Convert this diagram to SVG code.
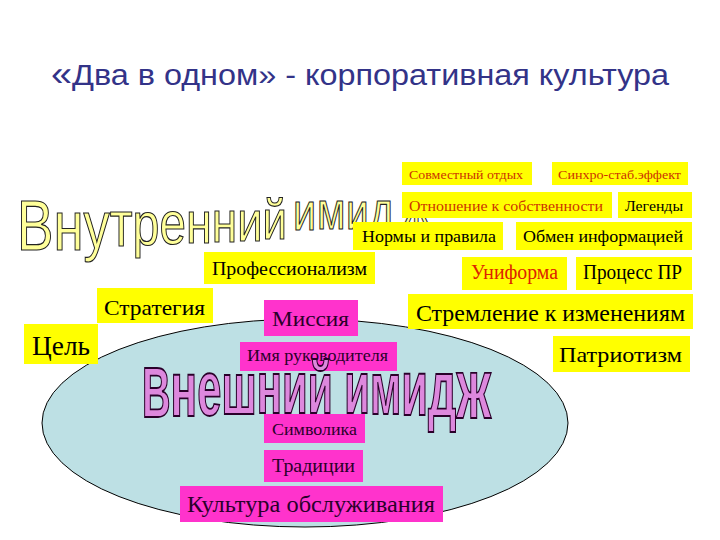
<svg xmlns="http://www.w3.org/2000/svg" width="720" height="540" viewBox="0 0 720 540">
<style>
.y{fill:#FFFF00}
.m{fill:#FF33CC}
.t{font-family:"Liberation Serif","Times New Roman",serif;fill:#000}
.r{fill:#CC3300}
.dk{fill:#2A002A}
.title{font-family:"Liberation Sans",Arial,sans-serif;fill:#333388}
.wa1{font-family:"Liberation Sans",Arial,sans-serif;fill:#FFFF99;stroke:#222;stroke-width:1.2}
.wa2{font-family:"Liberation Sans",Arial,sans-serif;font-weight:bold;fill:#DD88DD;stroke:#2A002A;stroke-width:1.8}
</style>
<rect width="720" height="540" fill="#fff"/>
<g id="title">
<text class="title" x="51" y="85" font-size="30" textLength="618" lengthAdjust="spacingAndGlyphs"><tspan font-size="35">«</tspan>Два в одном» - корпоративная культура</text>
</g>
<g id="ellipse">
<ellipse cx="305" cy="423" rx="263" ry="104" fill="#BDE0E4" stroke="#000" stroke-width="1"/>
</g>
<g id="inner-image">
<text class="wa1" transform="scale(0.78,1)" x="21.8" y="250"><tspan font-size="70" y="250">В</tspan><tspan font-size="70" y="250">н</tspan><tspan font-size="67" y="248">у</tspan><tspan font-size="64" y="246">т</tspan><tspan font-size="62" y="245">р</tspan><tspan font-size="61" y="244">е</tspan><tspan font-size="60" y="243">н</tspan><tspan font-size="59" y="242">н</tspan><tspan font-size="58" y="241">и</tspan><tspan font-size="56" y="239">й</tspan><tspan font-size="58" y="235"> </tspan><tspan font-size="53" x="375.6" y="230">и</tspan><tspan font-size="53" x="406.4" y="229">м</tspan><tspan font-size="52" x="443.6" y="229">и</tspan><tspan font-size="52" x="474.4" y="228">д</tspan><tspan font-size="51" x="516.7" y="227">ж</tspan></text>
</g>
<g id="connectors"></g>
<g id="n-sovmestny"><rect class="y" x="402" y="162" width="130" height="23"/><text class="t r" x="409" y="179" font-size="13" textLength="114" lengthAdjust="spacingAndGlyphs">Совместный отдых</text></g>
<g id="n-sinhro"><rect class="y" x="552" y="162" width="136" height="23"/><text class="t r" x="558" y="179" font-size="13" textLength="123" lengthAdjust="spacingAndGlyphs">Синхро-стаб.эффект</text></g>
<g id="n-otnoshenie"><rect class="y" x="402" y="192" width="210" height="26"/><text class="t r" x="409" y="211" font-size="15" textLength="194" lengthAdjust="spacingAndGlyphs">Отношение к собственности</text></g>
<g id="n-legendy"><rect class="y" x="618" y="192" width="74" height="26"/><text class="t" x="625" y="211" font-size="15" textLength="58" lengthAdjust="spacingAndGlyphs">Легенды</text></g>
<g id="n-normy"><rect class="y" x="353" y="222" width="150" height="28"/><text class="t" x="362" y="242" font-size="17" textLength="134" lengthAdjust="spacingAndGlyphs">Нормы и правила</text></g>
<g id="n-obmen"><rect class="y" x="516" y="222" width="176" height="28"/><text class="t" x="523" y="242" font-size="17" textLength="160" lengthAdjust="spacingAndGlyphs">Обмен информацией</text></g>
<g id="n-prof"><rect class="y" x="204" y="252" width="171" height="32"/><text class="t" x="212" y="275" font-size="18" textLength="155" lengthAdjust="spacingAndGlyphs">Профессионализм</text></g>
<g id="n-uniforma"><rect class="y" x="462" y="257" width="105" height="33"/><text class="t" x="471" y="279" font-size="20" style="fill:#DD2200" textLength="87" lengthAdjust="spacingAndGlyphs">Униформа</text></g>
<g id="n-process"><rect class="y" x="576" y="257" width="116" height="33"/><text class="t" x="583" y="279" font-size="20" textLength="99" lengthAdjust="spacingAndGlyphs">Процесс ПР</text></g>
<g id="n-strategiya"><rect class="y" x="97" y="288" width="116" height="35"/><text class="t" x="104" y="315" font-size="22" textLength="101" lengthAdjust="spacingAndGlyphs">Стратегия</text></g>
<g id="n-cel"><rect class="y" x="24" y="324" width="74" height="40"/><text class="t" x="32" y="355" font-size="27" textLength="58" lengthAdjust="spacingAndGlyphs">Цель</text></g>
<g id="n-missiya"><rect class="m" x="264" y="300" width="94" height="36"/><text class="t dk" x="272" y="326" font-size="22" textLength="77" lengthAdjust="spacingAndGlyphs">Миссия</text></g>
<g id="n-stremlenie"><rect class="y" x="408" y="294" width="285" height="35"/><text class="t" x="416" y="321" font-size="23" textLength="269" lengthAdjust="spacingAndGlyphs">Стремление к изменениям</text></g>
<g id="n-patriotizm"><rect class="y" x="553" y="336" width="137" height="36"/><text class="t" x="559" y="362" font-size="22" textLength="123" lengthAdjust="spacingAndGlyphs">Патриотизм</text></g>
<g id="n-imya"><rect class="m" x="240" y="342" width="157" height="29"/><text class="t dk" x="247" y="361" font-size="16" textLength="141" lengthAdjust="spacingAndGlyphs">Имя руководителя</text></g>
<g id="n-simvolika"><rect class="m" x="264" y="414" width="101" height="29"/><text class="t dk" x="272" y="435" font-size="17" textLength="85" lengthAdjust="spacingAndGlyphs">Символика</text></g>
<g id="n-tradicii"><rect class="m" x="264" y="450" width="99" height="32"/><text class="t dk" x="272" y="472" font-size="19" textLength="83" lengthAdjust="spacingAndGlyphs">Традиции</text></g>
<g id="n-kultura"><rect class="m" x="180" y="486" width="263" height="36"/><text class="t dk" x="187" y="512" font-size="23" textLength="248" lengthAdjust="spacingAndGlyphs">Культура обслуживания</text></g>
<g id="outer-image">
<text class="wa2" transform="translate(142,0) scale(0.565,1)" x="0" y="417"><tspan font-size="70" y="417">В</tspan><tspan font-size="78" y="416">н</tspan><tspan font-size="77" y="415">е</tspan><tspan font-size="75" y="414">ш</tspan><tspan font-size="74" y="413">н</tspan><tspan font-size="74" y="413">и</tspan><tspan font-size="72" y="413">й</tspan><tspan font-size="74" y="413"> </tspan><tspan font-size="74" y="413">и</tspan><tspan font-size="75" y="414">м</tspan><tspan font-size="77" y="415">и</tspan><tspan font-size="79" y="416">д</tspan><tspan font-size="86" y="418">ж</tspan></text>
</g>
</svg>
